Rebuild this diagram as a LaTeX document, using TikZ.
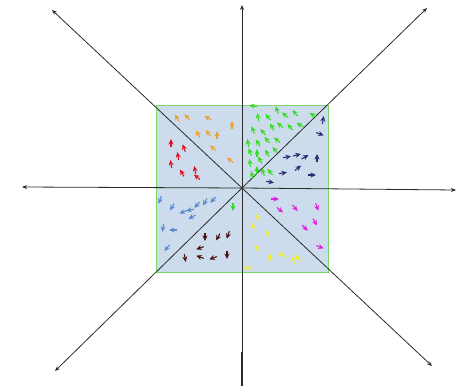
\documentclass[tikz,border=0pt]{standalone}
\usepackage{tikz}
\usetikzlibrary{arrows.meta}

\definecolor{fieldbg}{HTML}{CCDCEC}
\definecolor{fieldrim}{HTML}{77D966}
\definecolor{axisgray}{HTML}{2A2A2A}
\definecolor{cOrange}{HTML}{EFA030}
\definecolor{cRed}{HTML}{DD1122}
\definecolor{cGreen}{HTML}{33DD22}
\definecolor{cNavy}{HTML}{2B2A72}
\definecolor{cSteel}{HTML}{5A8ACB}
\definecolor{cBrown}{HTML}{4A1212}
\definecolor{cMagenta}{HTML}{DD22DD}
\definecolor{cYellow}{HTML}{F2F025}

\tikzset{
  axisline/.style={axisgray, line width=0.8pt, -{Stealth[length=5pt,width=4pt]}},
  vec/.style={line width=1.1pt, -{Stealth[length=5.5pt,width=5pt]}}
}

\begin{document}
\begin{tikzpicture}[x=1pt,y=-1pt]
\useasboundingbox (0,0) rectangle (458,386);

% Field region
\filldraw[fill=fieldbg, draw=fieldrim, line width=0.8pt] (156,105) rectangle (328,272);

% Points
\coordinate (O) at (242,188);
\coordinate (E) at (456,190);
\coordinate (W) at (22,187);
\coordinate (N) at (242,5);
\coordinate (S) at (242,386);
\coordinate (NW) at (52,10);
\coordinate (NE) at (427,8);
\coordinate (SW) at (55,371);
\coordinate (SE) at (432,366);

% Coordinate axes
\draw[axisline] (O) -- (E);
\draw[axisline] (O) -- (W);
\draw[axisline] (O) -- (N);
\draw[axisgray, line width=0.8pt] (O) -- (S);
\draw[axisgray, line width=1.6pt] (242,352) -- (S);
\draw[axisline] (O) -- (NW);
\draw[axisline] (O) -- (NE);
\draw[axisline] (O) -- (SW);
\draw[axisline] (O) -- (SE);

% Small field vectors
\foreach \x/\y/\a in {177/118/120, 187/117/130, 208/118/150, 232/125/90, 198/134/120,
                      208/133/130, 217/135/90, 213/148/140, 230/160/140}
  \draw[vec, cOrange] (\x,\y) ++(\a+180:4pt) -- ++(\a:8pt);
\foreach \x/\y/\a in {171/143/90, 184/148/110, 178/156/100, 171/164/100, 182/173/120,
                      195/170/100, 197/177/140}
  \draw[vec, cRed] (\x,\y) ++(\a+180:4pt) -- ++(\a:8pt);
\foreach \x/\y/\a in {253/106/170, 258/117/100, 268/117/130, 277/110/110, 285/115/140,
                      295/113/130, 313/115/150, 253/130/110, 263/132/130, 272/127/120,
                      280/125/140, 290/127/130, 300/125/150, 248/143/100, 258/143/120,
                      267/140/130, 277/140/140, 250/152/110, 257/153/90, 267/153/120,
                      275/150/130, 250/163/100, 260/160/120, 257/170/90, 263/172/110,
                      270/172/130, 252/175/100}
  \draw[vec, cGreen] (\x,\y) ++(\a+180:4pt) -- ++(\a:8pt);
\draw[vec, cGreen] (233,207) ++(90:4pt) -- ++(270:8pt);
\foreach \x/\y/\a in {323/120/80, 320/134/-20, 287/157/10, 297/155/15, 305/157/30,
                      317/158/90, 298/168/40, 283/173/10, 312/175/0, 270/182/-10}
  \draw[vec, cNavy] (\x,\y) ++(\a+180:4pt) -- ++(\a:8pt);
\foreach \x/\y/\a in {160/200/250, 172/207/240, 183/212/200, 190/210/190, 197/205/230,
                      205/202/240, 213/200/225, 163/228/260, 173/230/180, 192/217/210,
                      167/248/230}
  \draw[vec, cSteel] (\x,\y) ++(\a+180:4pt) -- ++(\a:8pt);
\foreach \x/\y/\a in {205/237/270, 218/237/240, 228/235/250, 200/248/200, 200/257/160,
                      185/258/280, 213/258/200, 227/255/270}
  \draw[vec, cBrown] (\x,\y) ++(\a+180:4pt) -- ++(\a:8pt);
\foreach \x/\y/\a in {275/199/0, 280/210/-40, 295/208/-50, 317/207/-70, 315/222/-60,
                      305/228/-45, 320/247/-20}
  \draw[vec, cMagenta] (\x,\y) ++(\a+180:4pt) -- ++(\a:8pt);
\foreach \x/\y/\a in {257/217/120, 253/227/100, 267/233/120, 257/248/130, 270/257/100,
                      282/255/150, 293/260/110, 298/258/130, 248/268/170}
  \draw[vec, cYellow] (\x,\y) ++(\a+180:4pt) -- ++(\a:8pt);

\end{tikzpicture}
\end{document}
